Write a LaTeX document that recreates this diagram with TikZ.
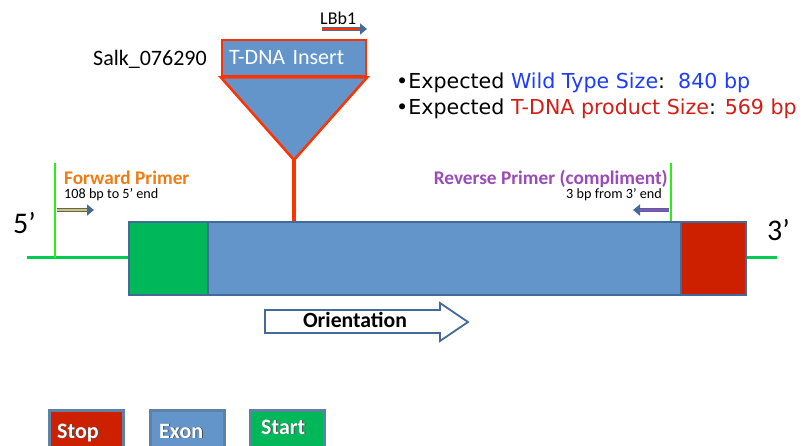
\documentclass[tikz,border=0pt]{standalone}
\usepackage{fontspec}
\setmainfont{Carlito}
\newfontfamily\bulletfont{DejaVu Sans}
\usetikzlibrary{arrows.meta,calc}
\definecolor{exonblue}{RGB}{99,149,202}
\definecolor{edgeblue}{RGB}{66,107,153}
\definecolor{startgreen}{RGB}{0,184,90}
\definecolor{stopred}{RGB}{204,32,0}
\definecolor{strandgreen}{RGB}{0,204,80}
\definecolor{primergreen}{RGB}{40,240,20}
\definecolor{insertred}{RGB}{255,51,0}
\definecolor{fwdorange}{RGB}{237,125,20}
\definecolor{fwdfill}{RGB}{240,190,50}
\definecolor{revpurple}{RGB}{155,75,185}
\definecolor{wtblue}{RGB}{30,60,255}
\definecolor{tdnared}{RGB}{210,30,20}
\tikzset{
  genebox/.style={draw=edgeblue, line width=2pt, inner sep=0pt, anchor=north west},
  legendbox/.style={draw=edgeblue!85, line width=2.5pt, inner sep=0pt, anchor=north west,
    minimum width=74pt, minimum height=42pt},
  strand/.style={strandgreen, line width=3pt},
  primerline/.style={primergreen, line width=2.5pt},
  primerarrow/.style={draw=edgeblue, line width=4.5pt, -{Triangle[length=7pt,width=11pt]}},
  primercore/.style={line width=1.6pt},
  legendtext/.style={text=white, font=\fontsize{22}{24}\selectfont\bfseries, anchor=base west, inner sep=0pt},
  legendshadow/.style={text=black!70, font=\fontsize{22}{24}\selectfont\bfseries, anchor=base west, inner sep=0pt},
  primernote/.style={font=\fontsize{14.2}{16}\selectfont, inner sep=0pt},
  primertitle/.style={font=\fontsize{19.3}{22}\selectfont\bfseries, inner sep=0pt},
  bigtext/.style={font=\fontsize{22}{24}\selectfont, inner sep=0pt},
  endlabel/.style={font=\fontsize{30}{32}\selectfont, anchor=base west, inner sep=0pt},
  sizeline/.style={font=\bulletfont\fontsize{20.6}{23}\selectfont, anchor=base west, inner sep=0pt},
}
\begin{document}
\begin{tikzpicture}[x=1pt,y=-1pt]
\useasboundingbox (0,0) rectangle (804,445);
\fill[white] (0,0) rectangle (804,445);

% DNA strand on both sides of the gene
\coordinate (s5) at (27,257.5);
\coordinate (s3) at (777,257.5);
\draw[strand] (s5) -- (128,257.5);
\draw[strand] (745,257.5) -- (s3);

% gene: start codon, exon, stop codon
\node[genebox, fill=startgreen, minimum width=79pt, minimum height=73pt] (start) at (128,221) {};
\node[genebox, fill=exonblue, minimum width=473pt, minimum height=73pt] (exon) at (207,221) {};
\node[genebox, fill=stopred, minimum width=65pt, minimum height=73pt] (stop) at (680,221) {};

\node[endlabel] (five) at (13,233) {5’};
\node[endlabel] (three) at (767,240) {3’};

% forward primer
\coordinate (fwdtop) at (55,163);
\draw[primerline] (fwdtop) -- (fwdtop |- s5);
\coordinate (f1) at (57,210);
\coordinate (f2) at (94,210);
\draw[primerarrow] (f1) -- (f2);
\draw[primercore, fwdfill] (f1) -- ($(f2)+(-7,0)$);
\node[primertitle, text=fwdorange, anchor=base west] (fwdlabel) at (64,184) {Forward Primer};
\node[primernote, anchor=base west] (fwdnote) at (64,198) {108 bp to 5’ end};

% reverse primer
\coordinate (revtop) at (671,163);
\draw[primerline] (revtop) -- (revtop |- exon.north);
\coordinate (r1) at (669,210);
\coordinate (r2) at (633,210);
\draw[primerarrow] (r1) -- (r2);
\draw[primercore, revpurple] (r1) -- ($(r2)+(7,0)$);
\node[primertitle, text=revpurple, anchor=base east] (revlabel) at (668,184) {Reverse Primer (compliment)};
\node[primernote, anchor=base east] (revnote) at (662,198) {3 bp from 3’ end};

% T-DNA insert
\node[draw=insertred, fill=exonblue, line width=2.5pt, minimum height=36pt, text width=130pt,
  inner xsep=7pt, inner ysep=0pt, align=left, text=white, font=\fontsize{22}{24}\selectfont] (insert) at (294,58) {T-DNA Insert};
\coordinate (tip) at (294,160);
\filldraw[draw=insertred, fill=exonblue, line width=2.5pt, line join=miter]
  (insert.south west) -- (insert.south east) -- (tip) -- cycle;
\draw[insertred, line width=4pt] (tip) -- (tip |- exon.north);
\node[bigtext, anchor=base west] (salk) at (93,65) {Salk\_076290};

% LBb1 primer
\node[font=\fontsize{18}{20}\selectfont, anchor=base west, inner sep=0pt] (lbb) at (320,24) {LBb1};
\coordinate (l1) at (322,29);
\coordinate (l2) at (367,29);
\draw[primerarrow, line width=4pt] (l1) -- (l2);
\draw[primercore, insertred] (l1) -- ($(l2)+(-7,0)$);

% expected product sizes
\node[sizeline] (wt) at (396,88)
  {•Expected \textcolor{wtblue}{Wild Type Size}:\ \ \textcolor{wtblue}{840 bp}};
\node[sizeline] (tdna) at (396,114)
  {•Expected \textcolor{tdnared}{T-DNA product Size}: \textcolor{tdnared}{569 bp}};

% orientation arrow
\draw[edgeblue, line width=1.8pt, fill=white, line join=miter]
  (265,310) -- (440,310) -- (440,303) -- (468,322) -- (440,341) -- (440,333) -- (265,333) -- cycle;
\node[font=\fontsize{21.7}{24}\selectfont\bfseries, anchor=base, inner sep=0pt] (orient) at (355,327) {Orientation};

% legend
\node[legendbox, fill=stopred] (lstop) at (48,409) {};
\node[legendbox, fill=exonblue] (lexon) at (149,409) {};
\node[legendbox, fill=startgreen] (lstart) at (249,409) {};
\node[legendshadow] (lstopsh) at (57.9,438.9) {Stop};
\node[legendtext] (lstoptx) at (57,438) {Stop};
\node[legendshadow] (lexonsh) at (159.9,438.9) {Exon};
\node[legendtext] (lexontx) at (159,438) {Exon};
\node[legendshadow] (lstartsh) at (261.9,434.9) {Start};
\node[legendtext] (lstarttx) at (261,434) {Start};
\end{tikzpicture}
\end{document}
